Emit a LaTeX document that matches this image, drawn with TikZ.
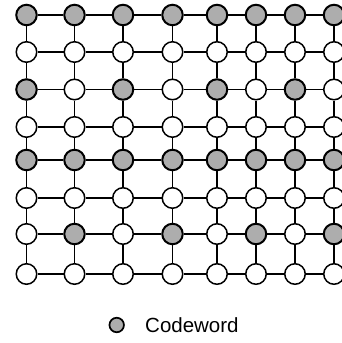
\documentclass[tikz,border=0pt]{standalone}
\usepackage{fontspec}
\setmainfont{Liberation Sans}
\begin{document}
\begin{tikzpicture}[x=1pt,y=-1pt,
  vtx/.style={circle,draw=black,line width=1.5pt,fill=white,minimum size=20.5pt,inner sep=0pt},
  cw/.style={vtx,fill=codegray,line width=2pt},
  lcw/.style={circle,draw=black,line width=1.7pt,fill=codegray,minimum size=14.5pt,inner sep=0pt},
  edge/.style={line width=1.3pt},
  lbl/.style={font=\fontsize{20.5}{24}\selectfont,anchor=west,inner sep=0pt}]
\definecolor{codegray}{gray}{0.68}
\clip (0,0) rectangle (342,343);
\useasboundingbox (0,0) rectangle (342,343);
\def\xs{{26.5,74.5,123,172.5,217,256,295,334}}
\def\ys{{15,52,89.5,127,160,198,234,274}}
% codeword pattern: 1 = shaded
\def\pat{{{1,1,1,1,1,1,1,1},{0,0,0,0,0,0,0,0},{1,0,1,0,1,0,1,0},{0,0,0,0,0,0,0,0},{1,1,1,1,1,1,1,1},{0,0,0,0,0,0,0,0},{0,1,0,1,0,1,0,1},{0,0,0,0,0,0,0,0}}}
\foreach \r in {0,...,7}{
  \foreach \c in {0,...,7}{
    \pgfmathsetmacro{\px}{\xs[\c]}
    \pgfmathsetmacro{\py}{\ys[\r]}
    \pgfmathtruncatemacro{\sh}{\pat[\r][\c]}
    \ifnum\sh=1
      \node[cw] (n-\r-\c) at (\px,\py) {};
    \else
      \node[vtx] (n-\r-\c) at (\px,\py) {};
    \fi
  }
}
\foreach \r in {0,...,7}{
  \foreach \c [evaluate=\c as \cn using int(\c+1)] in {0,...,6}{
    \draw[edge] (n-\r-\c) -- (n-\r-\cn);
  }
}
\foreach \r [evaluate=\r as \rn using int(\r+1)] in {0,...,6}{
  \foreach \c in {0,...,7}{
    \draw[edge] (n-\r-\c) -- (n-\rn-\c);
  }
}
\node[lcw] (leg) at (116.7,325) {};
\node[lbl] (legtext) at (145,325) {Codeword};
\end{tikzpicture}
\end{document}
